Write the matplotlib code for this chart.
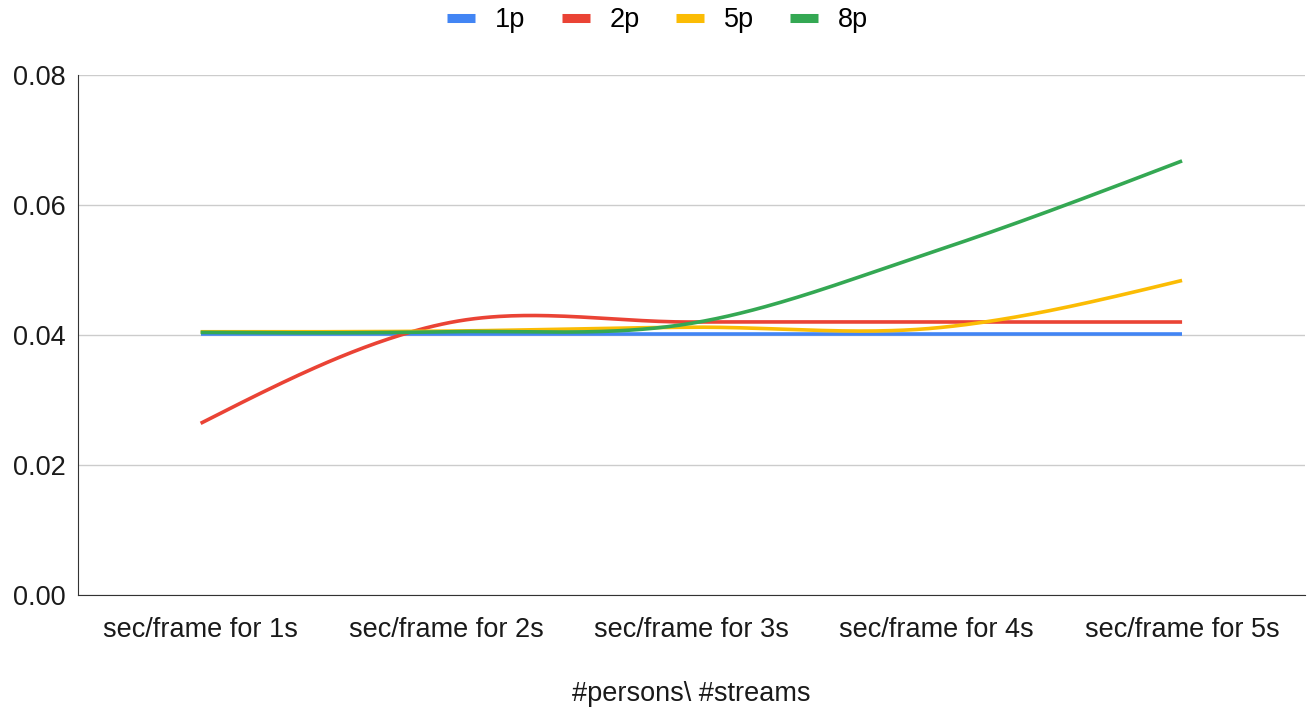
import numpy as np
import matplotlib
matplotlib.use("Agg")
import matplotlib.pyplot as plt

plt.rcParams.update({
    "font.family": ["Liberation Sans", "DejaVu Sans"],
    "font.size": 19.5,
})

categories = ["sec/frame for 1s", "sec/frame for 2s", "sec/frame for 3s",
              "sec/frame for 4s", "sec/frame for 5s"]
series_names = ["1p", "2p", "5p", "8p"]
p1 = [0.0402, 0.0402, 0.0402, 0.0402, 0.0402]
p2 = [0.0264, 0.0418, 0.0420, 0.0420, 0.0420]
p5 = [0.0405, 0.0406, 0.0412, 0.0411, 0.0484]
p8 = [0.0404, 0.0405, 0.0418, 0.0530, 0.0668]
colors = ["#4285f4", "#ea4335", "#fbbc04", "#34a853"]
y_ticks = [0.00, 0.02, 0.04, 0.06, 0.08]


def smooth(values, n=60):
    # cubic hermite smoothing, catmull-rom inside, natural ends
    v = np.asarray(values, dtype=float)
    k = len(v)
    tang = np.zeros(k)
    tang[1:-1] = (v[2:] - v[:-2]) / 2
    tang[0] = (3 * (v[1] - v[0]) - tang[1]) / 2
    tang[-1] = (3 * (v[-1] - v[-2]) - tang[-2]) / 2
    xs, ys = [], []
    for i in range(k - 1):
        t = np.linspace(0, 1, n, endpoint=(i == k - 2))
        h00 = 2 * t**3 - 3 * t**2 + 1
        h10 = t**3 - 2 * t**2 + t
        h01 = -2 * t**3 + 3 * t**2
        h11 = t**3 - t**2
        ys.append(h00 * v[i] + h10 * tang[i] + h01 * v[i + 1] + h11 * tang[i + 1])
        xs.append(i + t)
    return np.concatenate(xs), np.concatenate(ys)


fig = plt.figure(figsize=(13.1, 7.09), dpi=100)
ax = fig.add_axes([0.0595, 0.161, 0.9365, 0.733])

for name, vals, c in zip(series_names, [p1, p2, p5, p8], colors):
    xs, ys = smooth(vals)
    ax.plot(xs, ys, color=c, lw=2.6, label=name, solid_capstyle="butt")

ax.set_xlim(-0.5, len(categories) - 0.5)
ax.set_ylim(0, 0.08)
ax.set_yticks(y_ticks)
ax.set_yticklabels([f"{v:.2f}" for v in y_ticks])
ax.set_xticks(range(len(categories)))
ax.set_xticklabels(categories)
ax.tick_params(axis="both", length=0, labelsize=19.5, colors="#1a1a1a")
ax.tick_params(axis="x", pad=16)
ax.tick_params(axis="y", pad=9)
ax.grid(axis="y", color="#cccccc", lw=1)
ax.set_axisbelow(True)
for s in ["top", "right"]:
    ax.spines[s].set_visible(False)
ax.spines["left"].set_color("#333333")
ax.spines["bottom"].set_color("#333333")

ax.set_xlabel("#persons\\ #streams", fontsize=19.5, color="#1a1a1a", labelpad=27)

leg = fig.legend(loc="upper center", bbox_to_anchor=(0.502, 1.024), ncol=4, frameon=False,
                 fontsize=19.5, handlelength=1.03, handletextpad=0.74, columnspacing=1.33)
for h in leg.get_lines():
    h.set_linewidth(6.5)

fig.savefig("out.png", dpi=100)
